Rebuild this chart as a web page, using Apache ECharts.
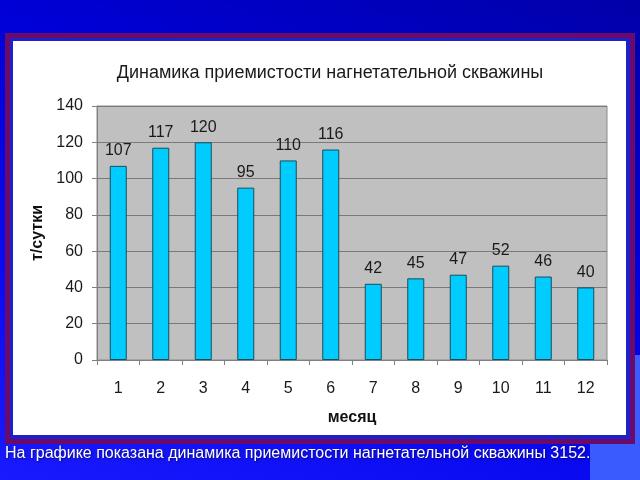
<!DOCTYPE html>
<html><head><meta charset="utf-8">
<script src="https://cdn.jsdelivr.net/npm/echarts@6/dist/echarts.min.js"></script>
<style>
html,body{margin:0;padding:0;width:640px;height:480px;overflow:hidden;
background:linear-gradient(200deg,#0000a8 0%,#0000d8 35%,#0a0af0 70%,#1a1aff 100%);}
#c{position:absolute;left:0;top:0;width:640px;height:480px;}
</style></head><body>
<div id="c"></div>
<script>
const months = ['1','2','3','4','5','6','7','8','9','10','11','12'];
const values = [107,117,120,95,110,116,42,45,47,52,46,40];
const yTicks = {min:0, max:140, interval:20};
const titleText = 'Динамика приемистости нагнетательной скважины';
const yName = 'т/сутки';
const xName = 'месяц';
const caption = 'На графике показана динамика приемистости нагнетательной скважины 3152.';

const FF = '"Liberation Sans", Arial, sans-serif';
const chart = echarts.init(document.getElementById('c'), null, {renderer:'canvas'});
chart.setOption({
  backgroundColor:'transparent',
  animation:false,
  graphic:[
    {type:'rect', z:-10, shape:{x:590,y:355,width:50,height:125}, style:{fill:'#3a5cff'}},
    {type:'rect', z:-9, shape:{x:5,y:33,width:630,height:411}, style:{fill:'#6a0a6a'}},
    {type:'rect', z:-8, shape:{x:10,y:38,width:620,height:401}, style:{fill:'#2020c8'}},
    {type:'rect', z:-7, shape:{x:13,y:41,width:613,height:394}, style:{fill:'#ffffff'}},
    {type:'text', z:10, left:5, top:446, style:{text:caption, fill:'#ffffff',
      font:'16px "Liberation Sans", Arial, sans-serif', textShadowColor:'rgba(0,0,40,0.6)', textShadowBlur:2, textShadowOffsetX:1, textShadowOffsetY:1}}
  ],
  title:{text:titleText, left:325, textAlign:'center', top:59,
    textStyle:{fontFamily:FF, fontSize:18, fontWeight:'normal', color:'#1a1a1a'}},
  grid:{left:97, right:33, top:106, bottom:120, show:true, backgroundColor:'#c0c0c0', borderColor:'#8a8a8a', borderWidth:1},
  xAxis:{type:'category', data:months,
    name:xName, nameLocation:'middle', nameGap:50,
    nameTextStyle:{fontFamily:FF, fontSize:16, fontWeight:'bold', color:'#111'},
    axisLine:{lineStyle:{color:'#808080'}},
    axisTick:{show:true, alignWithLabel:false, length:5, lineStyle:{color:'#808080'}},
    axisLabel:{margin:21, fontFamily:FF, fontSize:16, color:'#1a1a1a'}},
  yAxis:{type:'value', min:yTicks.min, max:yTicks.max, interval:yTicks.interval,
    name:yName, nameLocation:'middle', nameGap:51, nameRotate:90,
    nameTextStyle:{fontFamily:FF, fontSize:16, fontWeight:'bold', color:'#111'},
    axisLine:{show:true, lineStyle:{color:'#808080'}},
    axisTick:{show:true, length:5, lineStyle:{color:'#808080'}},
    splitLine:{lineStyle:{color:'#7a7a7a', width:1}},
    axisLabel:{margin:14, fontFamily:FF, fontSize:16, color:'#1a1a1a'}},
  series:[{type:'bar', data:values, barWidth:17,
    itemStyle:{color:'#00ccff', borderColor:'#174d5e', borderWidth:1},
    label:{show:true, position:'top', distance:7, fontFamily:FF, fontSize:16, color:'#1a1a1a'}}]
});
</script>
</body></html>
